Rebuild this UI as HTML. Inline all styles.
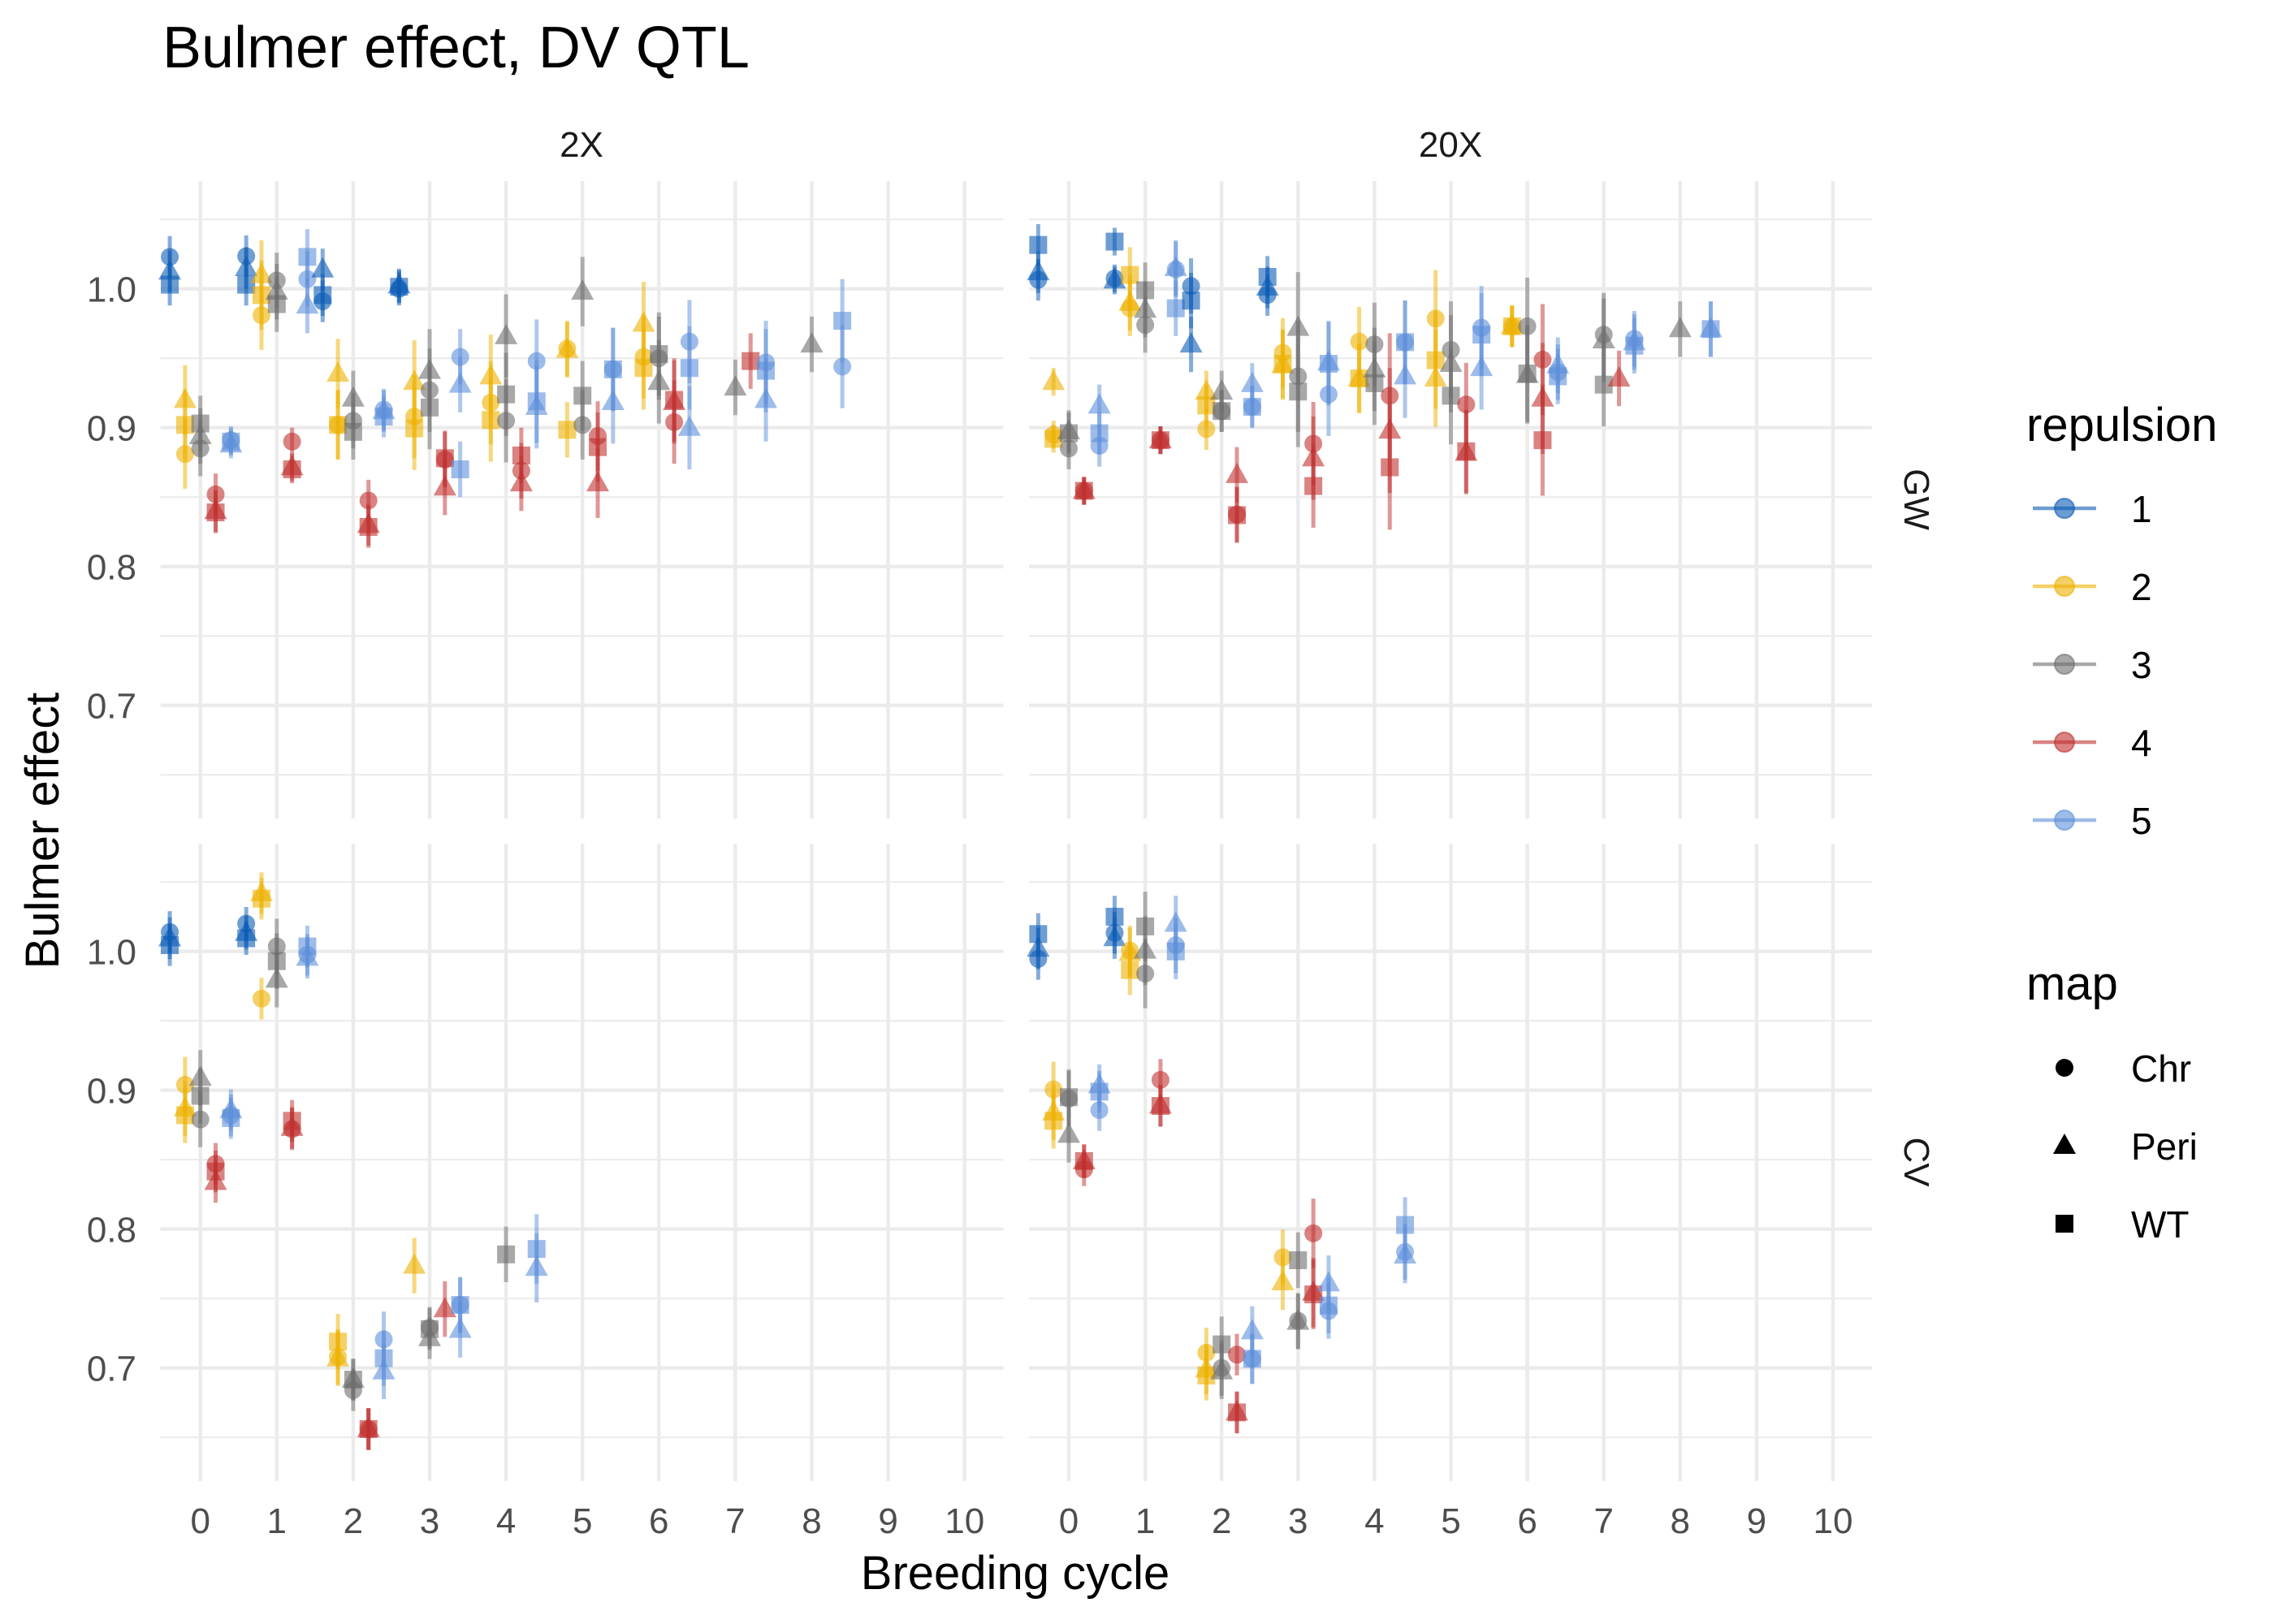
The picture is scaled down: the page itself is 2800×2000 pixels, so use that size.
<!DOCTYPE html>
<html><head><meta charset="utf-8">
<style>
html,body{margin:0;padding:0;background:#fff;}
svg{display:block;font-family:"Liberation Sans",Arial,sans-serif;}
</style></head>
<body>
<svg id="chart" width="2800" height="2000" viewBox="0 0 2800 2000" xmlns="http://www.w3.org/2000/svg">
<rect x="0" y="0" width="2800" height="2000" fill="#fff"/>
<text x="200" y="83" font-size="72" fill="#000">Bulmer effect, DV QTL</text>
<text x="716" y="193" font-size="44" text-anchor="middle" fill="#1a1a1a">2X</text>
<text x="1786" y="193" font-size="44" text-anchor="middle" fill="#1a1a1a">20X</text>
<text transform="translate(2345,615) rotate(90)" font-size="44" text-anchor="middle" fill="#1a1a1a">GW</text>
<text transform="translate(2345,1431) rotate(90)" font-size="44" text-anchor="middle" fill="#1a1a1a">CV</text>
<text x="1250" y="1957" font-size="58" text-anchor="middle" fill="#000">Breeding cycle</text>
<text transform="translate(72,1023) rotate(-90)" font-size="58" text-anchor="middle" fill="#000">Bulmer effect</text>
<g id="grid"></g>
<g id="axes"></g>
<g id="marks"></g>
<g id="legend"></g>
</svg>
<script>
const cycleTicks = [0,1,2,3,4,5,6,7,8,9,10];
const yTickLabels = ["0.7","0.8","0.9","1.0"];
const yTickValues = [0.7,0.8,0.9,1.0];
const yMinorValues = [0.65,0.75,0.85,0.95,1.05];
const repulsionLevels = ["1","2","3","4","5"];
const mapLevels = ["Chr","Peri","WT"];
// rows: [repulsion, cycle, Chr, Peri, WT, errHalfWidth]
const gw2x = [
[1,0,1.023,1.0125,1.003,.015],[2,0,0.881,0.920,0.902,.025],[3,0,0.885,0.894,0.903,.02],[4,0,0.852,0.840,0.839,.015],[5,0,0.891,0.888,0.890,.01],
[1,1,1.0235,1.015,1.003,.015],[2,1,0.981,1.010,0.9955,.025],[3,1,1.006,0.998,0.989,.02],[4,1,0.890,0.8715,0.870,.01],[5,1,1.007,0.988,1.023,.02],
[1,2,0.991,1.014,0.9955,.015],[2,2,0.902,0.939,0.902,.025],[3,2,0.905,0.921,0.897,.02],[4,2,0.8475,0.830,0.8285,.015],[5,2,0.913,0.912,0.908,.015],
[1,3,1.0,1.0025,1.0015,.012],[2,3,0.908,0.933,0.8995,.03],[3,3,0.927,0.941,0.9145,.03],[4,3,0.877,0.857,0.878,.02],[5,3,0.951,0.931,0.870,.02],
[2,4,0.918,0.937,0.9055,.03],[3,4,0.905,0.966,0.924,.03],[4,4,0.869,0.860,0.880,.02],[5,4,0.948,0.915,0.919,.03],
[2,5,0.957,0.956,0.8985,.02],[3,5,0.902,0.998,0.923,.025],[4,5,0.894,0.860,0.886,.025],[5,5,0.942,0.9185,0.942,.03],
[2,6,0.951,0.975,0.943,.03],[3,6,0.95,0.933,0.953,.03],[4,6,0.904,0.9185,0.92,.03],[5,6,0.962,0.90,0.943,.03],
[3,7,null,0.929,null,.02],[4,7,null,null,0.948,.02],[5,7,0.947,0.92,0.941,.03],
[3,8,null,0.96,null,.02],[5,8,0.944,null,0.977,.03]
];
const gw20x = [
[1,0,1.0065,1.012,1.0316,.015],[2,0,0.895,0.933,0.892,.01],[3,0,0.885,0.8975,0.896,.015],[4,0,0.8545,0.8545,0.8545,.01],[5,0,0.887,0.916,0.896,.015],
[1,1,1.0075,1.006,1.034,.01],[2,1,0.986,0.990,1.01,.02],[3,1,0.974,0.985,0.999,.02],[4,1,0.891,0.891,0.891,.01],[5,1,1.014,1.015,0.986,.02],
[1,2,1.002,0.960,0.9915,.02],[2,2,0.899,0.926,0.916,.015],[3,2,0.912,0.926,0.912,.015],[4,2,0.8375,0.866,0.837,.02],[5,2,0.915,0.9315,0.915,.015],
[1,3,0.9956,1.001,1.0086,.015],[2,3,0.954,0.945,0.946,.025],[3,3,0.937,0.972,0.926,.04],[4,3,0.8885,0.878,0.858,.03],[5,3,0.924,0.947,0.946,.03],
[2,4,0.962,0.9355,0.9355,.025],[3,4,0.96,0.942,0.932,.03],[4,4,0.923,0.898,0.8715,.045],[5,4,0.9616,0.937,0.9616,.03],
[2,5,0.9786,0.9355,0.9486,.035],[3,5,0.956,0.946,0.923,.035],[4,5,0.9167,0.882,0.883,.03],[5,5,0.972,0.943,0.967,.03],
[2,6,0.973,0.973,0.973,.015],[3,6,0.973,0.938,0.939,.035],[4,6,0.949,0.921,0.891,.04],[5,6,0.94,0.945,0.937,.02],
[3,7,0.967,0.963,0.931,.03],[4,7,null,0.9355,null,.02],[5,7,0.964,0.9616,0.959,.02],
[3,8,null,0.971,null,.02],[5,8,null,0.971,0.971,.02]
];
const cv2x = [
[1,0,1.014,1.0095,1.0045,.015],[2,0,0.904,0.887,0.882,.02],[3,0,0.879,0.909,0.896,.02],[4,0,0.847,0.834,0.8415,.015],[5,0,0.882,0.8857,0.88,.015],
[1,1,1.02,1.0134,1.0095,.012],[2,1,0.966,1.042,1.038,.015],[3,1,1.0036,0.9797,0.993,.02],[4,1,0.872,0.873,0.878,.015],[5,1,0.9976,0.9955,1.0036,.015],
[2,2,0.708,0.707,0.719,.02],[3,2,0.684,0.6916,0.6916,.015],[4,2,0.656,0.656,0.656,.015],[5,2,0.7206,0.6976,0.707,.02],
[2,3,null,0.7737,null,.02],[3,3,0.729,0.7215,0.728,.015],[4,3,null,0.7424,null,.02],[5,3,0.7454,0.7275,0.7454,.02],
[3,4,null,null,0.7818,.02],[5,4,null,0.7722,0.7857,.025]
];
const cv20x = [
[1,0,0.9946,1.002,1.0125,.015],[2,0,0.9006,0.884,0.878,.02],[3,0,0.894,0.868,0.895,.02],[4,0,0.843,0.849,0.849,.012],[5,0,0.8857,0.9036,0.899,.015],
[1,1,1.0134,1.0096,1.025,.015],[2,1,1.0006,0.999,0.9866,.018],[3,1,0.984,1.0006,1.018,.025],[4,1,0.9075,0.889,0.8887,.015],[5,1,1.0045,1.02,1.0,.02],
[2,2,0.711,0.699,0.6946,.018],[3,2,0.70,0.6976,0.717,.02],[4,2,0.7096,0.668,0.668,.015],[5,2,0.7066,0.7265,0.7066,.018],
[2,3,0.7797,0.7618,null,.02],[3,3,0.734,0.7334,0.7776,.02],[4,3,0.797,0.7543,0.753,.025],[5,3,0.741,0.761,0.745,.02],
[5,4,0.7836,0.781,0.803,.02]
];

const NS = "http://www.w3.org/2000/svg";
const colors = ["#0b5cb5","#edb100","#6e6e6e","#c0302f","#5e8fda"];
const panelLeft = [197.5, 1267], panelW = 1038, x0 = [246.7, 1316], xUnit = 94.1;
const panelTop = [223, 1039], panelH = 785, yTop = 1.0776, yPx = 1710;
function xScale(col, v){ return x0[col] + v*xUnit; }
function yScale(row, v){ return panelTop[row] + (yTop - v)*yPx; }
function mk(tag, attrs, parent){ const e = document.createElementNS(NS, tag); for (const k in attrs) e.setAttribute(k, attrs[k]); parent.appendChild(e); return e; }

const grid = document.getElementById('grid');
const axes = document.getElementById('axes');
const marks = document.getElementById('marks');
const legend = document.getElementById('legend');

for (let row=0; row<2; row++) for (let col=0; col<2; col++) {
  const L = panelLeft[col], R = L + panelW, T = panelTop[row], B = T + panelH;
  yMinorValues.forEach(v => {
    const l = mk('line', {x1:L, x2:R, y1:yScale(row,v), y2:yScale(row,v), stroke:'#ebebeb', 'stroke-width':2.2}, grid);
    
    
  });
  yTickValues.forEach(v => {
    const l = mk('line', {x1:L, x2:R, y1:yScale(row,v), y2:yScale(row,v), stroke:'#ebebeb', 'stroke-width':4.4}, grid);
    
    
  });
  cycleTicks.forEach(c => {
    const l = mk('line', {x1:xScale(col,c), x2:xScale(col,c), y1:T, y2:B, stroke:'#ebebeb', 'stroke-width':4.4}, grid);
    
    
  });
}
for (let row=0; row<2; row++) yTickValues.forEach((v,i) => {
  const t = mk('text', {x:168, y:yScale(row,v)+16, 'font-size':44, 'text-anchor':'end', fill:'#4d4d4d'}, axes);
  t.textContent = yTickLabels[i];
  
  
});
for (let col=0; col<2; col++) cycleTicks.forEach(c => {
  const t = mk('text', {x:xScale(col,c), y:1888, 'font-size':44, 'text-anchor':'middle', fill:'#4d4d4d'}, axes);
  t.textContent = String(c);
  
  
});

function shape(kind, cx, cy, color, parent){
  let e;
  if (kind === 0) e = mk('circle', {cx:cx, cy:cy, r:11, fill:color, 'fill-opacity':0.6}, parent);
  else if (kind === 1) e = mk('polygon', {points:`${cx-14},${cy+10} ${cx+14},${cy+10} ${cx},${cy-15}`, fill:color, 'fill-opacity':0.6}, parent);
  else e = mk('rect', {x:cx-11, y:cy-11, width:22, height:22, fill:color, 'fill-opacity':0.6}, parent);
  return e;
}
const panels = [[gw2x,0,0,'gw-2x'],[gw20x,0,1,'gw-20x'],[cv2x,1,0,'cv-2x'],[cv20x,1,1,'cv-20x']];
panels.forEach(([data,row,col,name]) => {
  data.forEach(d => {
    const rep = d[0], cyc = d[1], err = d[5];
    const xv = cyc + (rep-3)*0.2;
    const cx = xScale(col, xv), color = colors[rep-1];
    for (let m=0; m<3; m++) {
      const v = d[2+m];
      if (v === null) continue;
      const eb = mk('line', {x1:cx, x2:cx, y1:yScale(row, v+err), y2:yScale(row, v-err), stroke:color, 'stroke-width':5, 'stroke-opacity':0.5}, marks);
      
      
      const p = shape(m, cx, yScale(row, v), color, marks);
      
      
    }
  });
});

// legend
const lt = mk('text', {x:2495, y:543, 'font-size':58, fill:'#000'}, legend);
lt.textContent = 'repulsion';


repulsionLevels.forEach((lab,i) => {
  const y = 626 + i*96;
  const ln = mk('line', {x1:2503, x2:2581, y1:y, y2:y, stroke:colors[i], 'stroke-width':4.5, 'stroke-opacity':0.6}, legend);
  
  
  const c = mk('circle', {cx:2542, cy:y, r:12, fill:colors[i], 'fill-opacity':0.6, stroke:colors[i], 'stroke-opacity':0.6, 'stroke-width':2}, legend);
  
  
  const t = mk('text', {x:2624, y:y+17, 'font-size':46, fill:'#000'}, legend);
  t.textContent = lab;
  
  
});
const mt = mk('text', {x:2495, y:1231, 'font-size':58, fill:'#000'}, legend);
mt.textContent = 'map';


mapLevels.forEach((lab,i) => {
  const y = 1315 + i*96;
  const s = shape(i, 2542, y, '#000', legend);
  s.setAttribute('fill-opacity', 1);
  
  
  const t = mk('text', {x:2624, y:y+17, 'font-size':46, fill:'#000'}, legend);
  t.textContent = lab;
  
  
});
</script>
</body></html>
